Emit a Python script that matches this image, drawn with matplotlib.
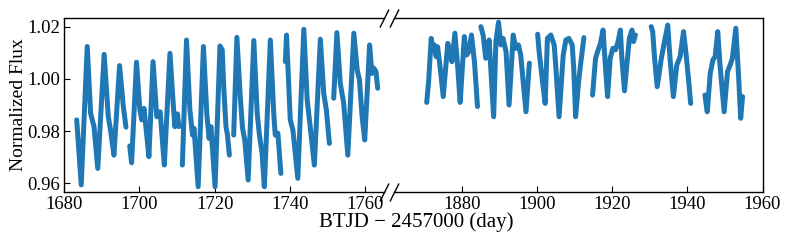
import numpy as np
import matplotlib
matplotlib.use('Agg')
import matplotlib.pyplot as plt

plt.rcParams['font.family'] = ['Liberation Serif', 'DejaVu Serif']

nan = np.nan
# light curve, segments separated by nan (gaps in the data)
t_left = [1683.3, 1684.5, 1686.1, 1687.0, 1687.9, 1688.9, 1690.6, 1691.7, 1692.3, 1693.2, 1694.7, 1695.7, 1696.4, nan,
          1697.4, 1697.9, 1699.2, 1700.1, 1700.6, 1701.2, 1701.6, 1702.5, 1703.6, 1704.6, 1705.5, 1705.8, 1706.6,
          1708.1, 1708.9, 1709.4, 1710.1, 1710.5, nan,
          1711.4, 1712.5, 1713.4, 1714.1, 1714.5, 1715.6, 1717.0, 1717.9, 1718.5, 1719.0, 1720.1, 1721.4, 1722.0,
          1722.4, 1723.0, 1723.4, 1723.9, nan,
          1725.05, 1725.9, 1726.8, 1727.4, 1728.0, 1728.9, 1730.4, 1731.3, 1731.9, 1732.6, 1733.2, 1734.8, 1735.7,
          1736.1, 1736.8, 1737.6, nan,
          1738.8, 1739.1, 1740.1, 1740.8, 1742.1, 1743.7, 1744.6, 1745.4, 1746.5, 1748.1, 1749.0, 1749.7, 1750.5, nan,
          1751.65, 1752.5, 1753.4, 1754.3, 1755.4, 1757.0, 1757.9, 1758.5, 1759.2, 1759.9, 1761.2, 1761.8, 1762.3,
          1762.9, 1763.35]
f_left = [0.9843, 0.9594, 1.0124, 0.9868, 0.9817, 0.9657, 1.0094, 0.9855, 0.9804, 0.9708, 1.0051, 0.9894, 0.9815, nan,
          0.9743, 0.9679, 1.0064, 0.9881, 0.9843, 0.9887, 0.9830, 0.9702, 1.0066, 0.9855, 0.9874, 0.9817, 0.9670,
          1.0098, 0.9919, 0.9817, 0.9866, 0.9817, nan,
          0.9670, 1.0149, 0.9881, 0.9785, 0.9811, 0.9587, 1.0124, 0.9868, 0.9772, 0.9817, 0.9587, 1.0126, 1.0111,
          0.9970, 0.9817, 0.9785, 0.9708, nan,
          0.9785, 1.0159, 0.9932, 0.9811, 0.9766, 0.9613, 1.0147, 0.9868, 0.9785, 0.9715, 0.9587, 1.0149, 0.9868,
          0.9785, 0.9792, 0.9638, nan,
          1.0066, 1.0168, 0.9843, 0.9804, 0.9619, 1.0190, 0.9919, 0.9817, 0.9670, 1.0152, 0.9945, 0.9881, 0.9753, nan,
          0.9926, 1.0177, 0.9983, 0.9907, 0.9708, 1.0175, 1.0034, 0.9996, 0.9856, 0.9766, 1.0130, 1.0021, 1.0041,
          1.0028, 0.9964]

t_right = [1870.7, 1871.2, 1871.9, 1872.3, 1872.7, 1873.2, 1873.6, 1874.2, 1875.1, 1876.3, 1876.9, 1877.4, 1878.2,
           1878.9, 1879.6, 1880.7, 1881.3, 1881.9, 1882.6, 1883.4, 1884.0, 1884.2, nan,
           1885.1, 1885.7, 1886.4, 1887.3, 1888.5, 1889.1, 1889.8, 1890.4, 1891.0, 1891.8, 1892.6, 1893.7, 1894.4,
           1895.1, 1895.7, 1897.1, 1898.0, nan,
           1900.2, 1900.6, 1901.5, 1902.2, 1902.8, 1903.7, 1904.6, 1905.0, 1905.9, 1907.0, 1907.7, 1908.5, 1909.4,
           1909.8, 1910.3, 1911.1, 1911.6, 1912.5, nan,
           1914.8, 1915.6, 1916.3, 1916.9, 1917.6, 1918.2, 1918.8, 1919.5, 1920.2, 1920.9, 1921.6, 1922.2, 1922.6,
           1923.3, 1924.0, 1924.6, 1925.3, 1925.7, 1926.2, nan,
           1930.4, 1930.8, 1931.3, 1932.0, 1933.1, 1934.1, 1934.8, 1935.4, 1936.3, 1937.2, 1938.1, 1939.0, 1939.7,
           1940.3, 1940.9, nan,
           1944.7, 1945.3, 1946.1, 1946.8, 1947.4, 1948.1, 1948.7, 1949.8, 1950.7, 1951.4, 1952.0, 1952.9, 1953.6,
           1954.2, 1954.7]
f_right = [0.9910, 0.9989, 1.0155, 1.0117, 1.0130, 1.0085, 1.0123, 1.0053, 0.9932, 1.0136, 1.0104, 1.0066, 1.0175,
           1.0053, 0.9910, 1.0162, 1.0091, 1.0104, 1.0168, 1.0066, 0.9938, 0.9894, nan,
           1.0200, 1.0168, 1.0079, 1.0149, 0.9855, 1.0143, 1.0217, 1.0130, 1.0155, 1.0104, 0.9900, 1.0168, 1.0117,
           1.0130, 1.0091, 0.9874, 1.0060, nan,
           1.0171, 1.0104, 0.9989, 0.9906, 1.0155, 1.0168, 1.0130, 1.0053, 0.9855, 1.0091, 1.0149, 1.0155, 1.0130,
           1.0040, 0.9855, 0.9990, 1.0053, 1.0158, nan,
           0.9938, 1.0079, 1.0111, 1.0136, 1.0187, 1.0053, 0.9932, 1.0079, 1.0117, 1.0111, 1.0143, 1.0187, 1.0079,
           0.9954, 1.0066, 1.0155, 1.0187, 1.0143, 1.0168, nan,
           1.0200, 1.0181, 1.0079, 0.9970, 1.0079, 1.0155, 1.0206, 1.0079, 0.9932, 1.0053, 1.0085, 1.0181, 1.0091,
           1.0002, 0.9906, nan,
           0.9938, 0.9874, 1.0021, 1.0072, 1.0085, 1.0181, 1.0053, 0.9874, 1.0028, 1.0053, 1.0079, 1.0194, 1.0021,
           0.9849, 0.9932]

xlim_left = (1680, 1765)
xlim_right = (1862, 1960)
ylim = (0.9568, 1.0232)
yticks = [0.96, 0.98, 1.00, 1.02]
xticks_left = [1680, 1700, 1720, 1740, 1760]
xticks_right = [1880, 1900, 1920, 1940, 1960]

W, H = 789, 240
fig = plt.figure(figsize=(W / 100, H / 100), dpi=100)
bot = 1 - 191.7 / H
hgt = (191.7 - 18.3) / H
ax1 = fig.add_axes([64.3 / W, bot, 319.6 / W, hgt])
ax2 = fig.add_axes([394.0 / W, bot, 368.5 / W, hgt])

col = '#1f77b4'
ax1.plot(t_left, f_left, color=col, lw=3.6, solid_joinstyle='round', solid_capstyle='round')
ax2.plot(t_right, f_right, color=col, lw=3.6, solid_joinstyle='round', solid_capstyle='round')

for ax in (ax1, ax2):
    ax.set_ylim(*ylim)
    ax.tick_params(direction='in', labelsize=13.5, length=4, width=0.8, pad=3)
    for s in ax.spines.values():
        s.set_linewidth(1.0)

ax1.set_xlim(*xlim_left)
ax2.set_xlim(*xlim_right)
ax1.set_xticks(xticks_left)
ax2.set_xticks(xticks_right)
ax1.set_yticks(yticks)
ax1.set_yticklabels(['%.2f' % v for v in yticks])
ax1.spines['right'].set_visible(False)
ax2.spines['left'].set_visible(False)
ax2.tick_params(axis='y', left=False, labelleft=False)
ax1.set_ylabel('Normalized Flux', fontsize=14, labelpad=0)

# break marks
kw = dict(marker=[(-1, -2), (1, 2)], markersize=13, linestyle='none', color='k', mec='k', mew=1, clip_on=False)
ax1.plot([1, 1], [0, 1], transform=ax1.transAxes, **kw)
ax2.plot([0, 0], [0, 1], transform=ax2.transAxes, **kw)

fig.text(416 / W, 1 - 226.5 / H, 'BTJD − 2457000 (day)', ha='center', va='baseline', fontsize=15)

fig.savefig('out.png', dpi=100)
